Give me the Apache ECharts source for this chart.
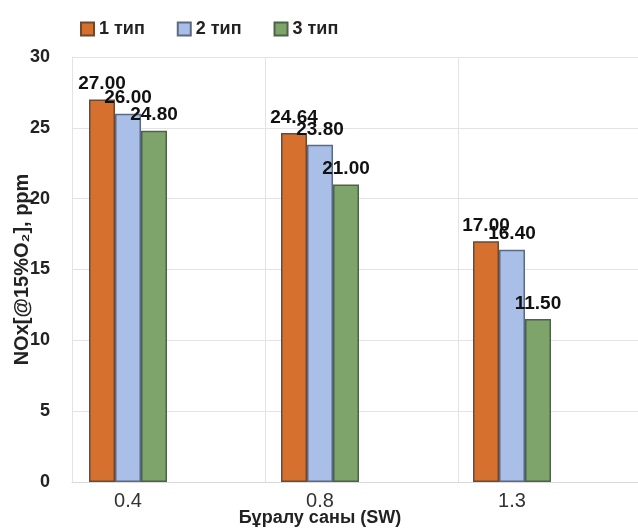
<!DOCTYPE html>
<html lang="en">

<head>
    <meta charset="UTF-8">
    <title>NOx chart</title>
    <script src="https://cdn.jsdelivr.net/npm/echarts@6/dist/echarts.min.js"></script>
    <style>
        html, body { margin: 0; padding: 0; background: #fff; }
        #chart { width: 638px; height: 528px; }
    </style>
</head>

<body>
    <div id="chart"></div>
    <script>
        // data
        var categories = ['0.4', '0.8', '1.3'];
        var type1 = [27.00, 24.64, 17.00];
        var type2 = [26.00, 23.80, 16.40];
        var type3 = [24.80, 21.00, 11.50];
        var seriesNames = ['1 тип', '2 тип', '3 тип'];

        var font = 'Liberation Sans, Arial, sans-serif';
        var chart = echarts.init(document.getElementById('chart'));

        function barSeries(name, data, color, border) {
            return {
                name: name,
                type: 'bar',
                xAxisIndex: 1,
                yAxisIndex: 1,
                barWidth: 26,
                barGap: '0%',
                data: data,
                itemStyle: { color: color, borderColor: border, borderWidth: 1.5 },
                label: {
                    show: true,
                    position: 'top',
                    distance: 6,
                    formatter: function (p) { return p.value.toFixed(2); },
                    color: '#111',
                    fontFamily: font,
                    fontWeight: 'bold',
                    fontSize: 19
                }
            };
        }

        chart.setOption({
            animation: false,
            legend: {
                left: 75,
                top: 15,
                icon: 'rect',
                itemWidth: 13,
                itemHeight: 13,
                itemGap: 32,
                data: seriesNames,
                textStyle: { fontFamily: font, fontWeight: 'bold', fontSize: 18, color: '#222' }
            },
            grid: [
                // grid lines area
                { left: 72, right: -13, top: 57, bottom: 46, outerBoundsMode: 'none' },
                // bars area
                { left: 32, right: 30, top: 57, bottom: 46, outerBoundsMode: 'none' }
            ],
            xAxis: [{
                gridIndex: 0,
                type: 'category',
                data: categories,
                boundaryGap: true,
                axisLine: { lineStyle: { color: '#d9d9d9' } },
                axisTick: { show: false },
                axisLabel: { show: false },
                splitLine: { show: true, lineStyle: { color: '#e3e3e3' } }
            }, {
                gridIndex: 1,
                type: 'category',
                data: categories,
                axisLine: { show: false },
                axisTick: { show: false },
                axisLabel: { margin: 9, fontFamily: font, fontSize: 20, color: '#333' },
                name: 'Бұралу саны (SW)',
                nameLocation: 'middle',
                nameGap: 27,
                nameMoveOverlap: false,
                nameTextStyle: { fontFamily: font, fontWeight: 'bold', fontSize: 18, color: '#222' }
            }],
            yAxis: [{
                gridIndex: 0,
                type: 'value',
                min: 0,
                max: 30,
                interval: 5,
                axisLine: { show: true, lineStyle: { color: '#e3e3e3' } },
                axisTick: { show: false },
                axisLabel: { margin: 22, fontFamily: font, fontWeight: 'bold', fontSize: 18, color: '#222' },
                splitLine: { lineStyle: { color: '#e3e3e3' } },
                name: 'NOx[@15%O₂], ppm',
                nameLocation: 'middle',
                nameGap: 40,
                nameMoveOverlap: false,
                nameTextStyle: { fontFamily: font, fontWeight: 'bold', fontSize: 20, color: '#222' }
            }, {
                gridIndex: 1,
                type: 'value',
                min: 0,
                max: 30,
                interval: 5,
                show: false
            }],
            series: [
                barSeries(seriesNames[0], type1, '#d5702f', '#6b4a35'),
                barSeries(seriesNames[1], type2, '#a9bfe8', '#5a6a85'),
                barSeries(seriesNames[2], type3, '#7fa46b', '#4d6347')
            ]
        });
    </script>
</body>

</html>
